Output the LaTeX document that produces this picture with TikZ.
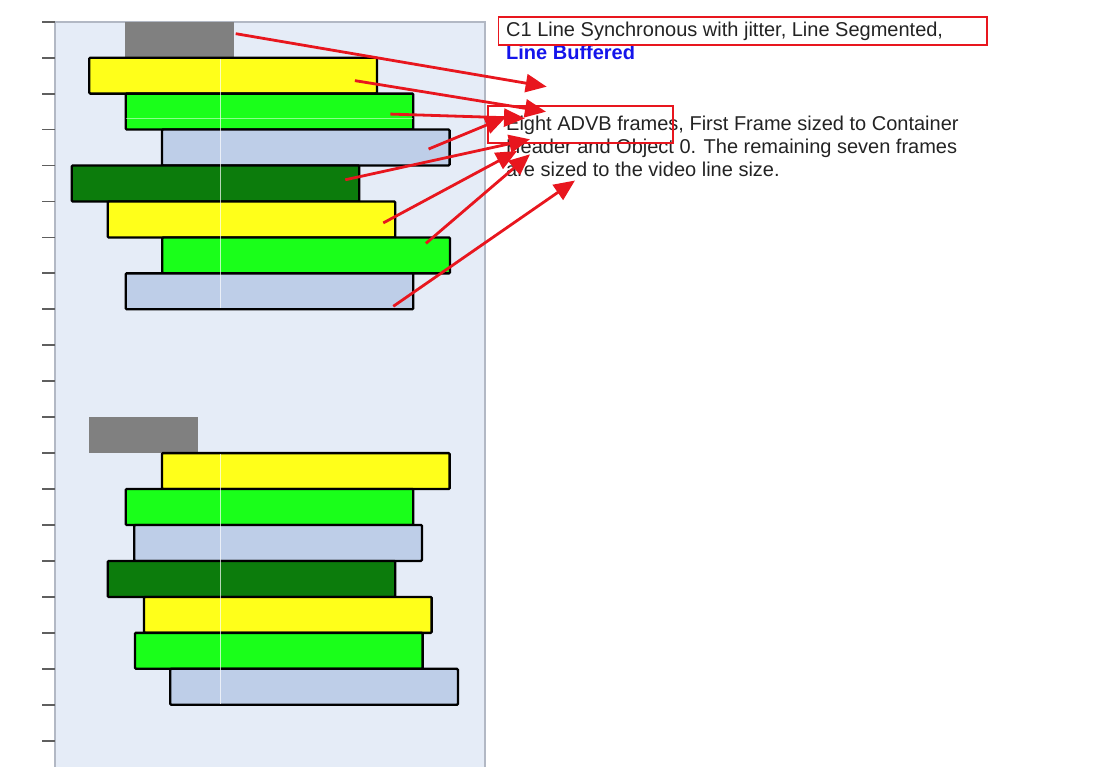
\documentclass[tikz,border=0pt]{standalone}
\usepackage{fontspec}
\setmainfont{Liberation Sans}
\usetikzlibrary{arrows.meta,calc}
\definecolor{AdvbPanel}{RGB}{229,236,247}
\definecolor{AdvbPanelEdge}{RGB}{178,184,196}
\definecolor{AdvbTick}{RGB}{95,95,95}
\definecolor{AdvbGray}{RGB}{128,128,128}
\definecolor{AdvbYellow}{RGB}{255,255,26}
\definecolor{AdvbGreen}{RGB}{26,255,26}
\definecolor{AdvbLightBlue}{RGB}{190,206,232}
\definecolor{AdvbDarkGreen}{RGB}{12,124,12}
\definecolor{AdvbRed}{RGB}{232,22,30}
\definecolor{AdvbBlue}{RGB}{20,20,235}
\definecolor{AdvbText}{RGB}{35,35,35}
\tikzset{
  advb/tick/.style={draw=AdvbTick, line width=1.8pt},
  advb/bar/.style={
    draw=black,
    line width=2.3pt,
    rounded corners=1pt,
    minimum width=287.6pt,
    minimum height=35.95pt,
    inner sep=0pt,
    outer sep=0pt,
    anchor=north west
  },
  advb/head/.style={
    fill=AdvbGray,
    minimum height=35.95pt,
    inner sep=0pt,
    outer sep=0pt,
    anchor=north west
  },
  advb/arrow/.style={-{Triangle[length=21pt,width=18pt]}, line width=2.8pt, draw=AdvbRed},
  advb/callout/.style={draw=AdvbRed, line width=1.8pt},
  advb/text/.style={font=\fontsize{20}{23}\selectfont, text=AdvbText, anchor=base west, inner sep=0pt}
}
\begin{document}
\begin{tikzpicture}[x=1pt,y=-1pt]
  \useasboundingbox (0,0) rectangle (1115,766);
  % panel and scale
  \fill[AdvbPanel] (55,22) rectangle (485,770);
  \draw[AdvbPanelEdge, line width=1.2pt] (55,770) -- (55,22) -- (485,22) -- (485,770);
  \foreach \r in {0,...,20}
    \draw[advb/tick] (42,{21.7+35.95*\r}) -- (55,{21.7+35.95*\r});
  % first line: container header + seven frames
  \node[advb/head, minimum width=109pt] (tHd) at (125,21.7) {};
  \foreach \name/\x/\col [count=\r] in {tYa/89.3/AdvbYellow, tGa/125.7/AdvbGreen,
      tBa/162/AdvbLightBlue, tDg/71.7/AdvbDarkGreen, tYb/107.7/AdvbYellow,
      tGb/162.3/AdvbGreen, tBb/125.7/AdvbLightBlue}
    \node[advb/bar, fill=\col] (\name) at (\x,{21.7+35.95*\r}) {};
  % second line
  \node[advb/head, minimum width=108.4pt] (bHd) at (89.3,{21.7+35.95*11}) {};
  \foreach \name/\x/\col [count=\r from 12] in {bYa/162/AdvbYellow, bGa/125.7/AdvbGreen,
      bBa/134.3/AdvbLightBlue, bDg/107.7/AdvbDarkGreen, bYb/144/AdvbYellow,
      bGb/135/AdvbGreen, bBb/170.3/AdvbLightBlue}
    \node[advb/bar, fill=\col] (\name) at (\x,{21.7+35.95*\r}) {};
  \draw[white, opacity=0.7, line width=0.8pt] (220,58.9) -- (220,308.1);
  \draw[white, opacity=0.7, line width=0.8pt] (220,454.3) -- (220,703.5);
  \draw[white, opacity=0.5, line width=0.8pt] (tGa.west |- 0,118.3) -- (tGa.east |- 0,118.3);
  % texts
  \node[advb/text] (title) at (506,36.7) {C1 Line Synchronous with jitter, Line Segmented,};
  \node[advb/text, text=AdvbBlue, font=\fontsize{20}{23}\selectfont\bfseries] (mode) at (506,59.3) {Line Buffered};
  \node[advb/text] (descA) at (506,130) {Eight ADVB frames, First Frame sized to Container};
  \node[advb/text] (descB) at (506,153) {Header and Object 0. The remaining seven frames};
  \node[advb/text] (descC) at (506,176) {are sized to the video line size.};
  \draw[advb/callout] (498.5,16.7) rectangle (986.7,45);
  \draw[advb/callout] (488.3,106) rectangle (673.3,143.3);
  % arrows
  \coordinate (tipA) at (546.7,86.7);
  \coordinate (tipB) at (546,111.7);
  \coordinate (tipC) at (525,118.3);
  \coordinate (tipD) at (506,117);
  \coordinate (tipE) at (530,139.3);
  \coordinate (tipF) at (517,151);
  \coordinate (tipG) at (530,154.3);
  \coordinate (tipH) at (575,180.5);
  \draw[advb/arrow] ($(tHd.east)+(1.7,-6)$) -- (tipA);
  \draw[advb/arrow] ($(tYa.east)+(-22,5)$) -- (tipB);
  \draw[advb/arrow] ($(tGa.east)+(-23,2.5)$) -- (tipC);
  \draw[advb/arrow] ($(tBa.east)+(-21,1.5)$) -- (tipD);
  \draw[advb/arrow] ($(tDg.east)+(-14,-3.7)$) -- (tipE);
  \draw[advb/arrow] ($(tYb.east)+(-12,3.5)$) -- (tipF);
  \draw[advb/arrow] ($(tGb.east)+(-24,-12)$) -- (tipG);
  \draw[advb/arrow] ($(tBb.east)+(-20,15)$) -- (tipH);
\end{tikzpicture}
\end{document}
